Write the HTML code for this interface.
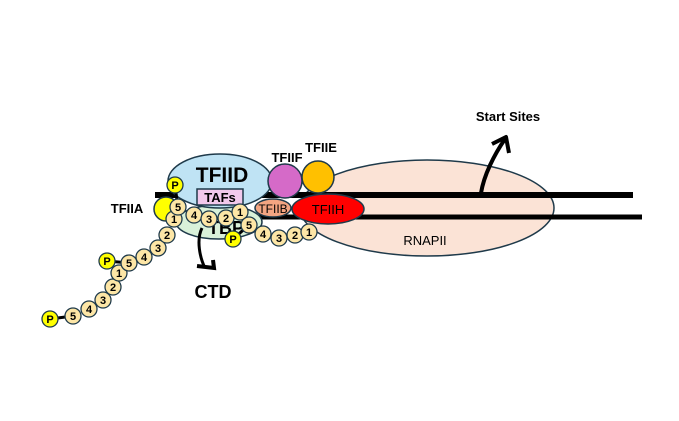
<!DOCTYPE html>
<html><head><meta charset="utf-8"><style>
html,body{margin:0;padding:0;background:#fff;width:679px;height:421px;overflow:hidden}
svg{display:block}
text{font-family:"Liberation Sans",sans-serif;font-weight:bold}
</style></head><body>
<svg width="679" height="421" viewBox="0 0 679 421">
<ellipse cx="427" cy="208" rx="127" ry="48" fill="#fbe3d6" stroke="#1f3a4a" stroke-width="1.5"/>
<line x1="155" y1="195" x2="633" y2="195" stroke="#000" stroke-width="6"/>
<line x1="245" y1="217" x2="642" y2="217" stroke="#000" stroke-width="5"/>
<path d="M481,193 C484,175 494,155 505,139" fill="none" stroke="#000" stroke-width="4"/>
<path d="M492,144 L506,137 L509,153" fill="none" stroke="#000" stroke-width="4" stroke-linejoin="round"/>
<text x="508" y="121" font-size="13" text-anchor="middle">Start Sites</text>
<text x="425" y="245" font-size="13" text-anchor="middle" style="font-weight:normal">RNAPII</text>
<ellipse cx="219" cy="222" rx="43" ry="17" fill="#d9f1d9" stroke="#1f3a4a" stroke-width="1.5"/>
<text x="226" y="234" font-size="18" text-anchor="middle">TBP</text>
<ellipse cx="220" cy="181" rx="52" ry="27" fill="#bfe3f4" stroke="#1f3a4a" stroke-width="1.5"/>
<text x="222" y="182" font-size="21" text-anchor="middle">TFIID</text>
<rect x="197" y="189" width="46" height="16" fill="#f2c9ec" stroke="#1f3a4a" stroke-width="1.5"/>
<text x="220" y="202" font-size="13" text-anchor="middle">TAFs</text>
<ellipse cx="166" cy="209" rx="12" ry="12" fill="#ffff00" stroke="#1f3a4a" stroke-width="1.5"/>
<text x="127" y="213" font-size="13" text-anchor="middle">TFIIA</text>
<circle cx="285" cy="181" r="17" fill="#d56ac8" stroke="#1f3a4a" stroke-width="1.5"/>
<circle cx="318" cy="177" r="16" fill="#ffc000" stroke="#1f3a4a" stroke-width="1.5"/>
<text x="287" y="162" font-size="13" text-anchor="middle">TFIIF</text>
<text x="321" y="152" font-size="13" text-anchor="middle">TFIIE</text>
<ellipse cx="273" cy="208" rx="18" ry="9" fill="#f4a582" stroke="#1f3a4a" stroke-width="1.5"/>
<text x="273" y="213" font-size="12" text-anchor="middle" style="font-weight:normal">TFIIB</text>
<ellipse cx="328" cy="209" rx="36" ry="15" fill="#ff0000" stroke="#1f3a4a" stroke-width="1.5"/>
<text x="328" y="214" font-size="13" text-anchor="middle" style="font-weight:normal">TFIIH</text>
<path d="M202,228 C196,240 200,258 205,268" fill="none" stroke="#000" stroke-width="3"/>
<path d="M197,266 L214,268 L213,260" fill="none" stroke="#000" stroke-width="4"/>
<text x="213" y="298" font-size="18" text-anchor="middle">CTD</text>
<g stroke="#000" stroke-width="3">
<line x1="50" y1="319" x2="73" y2="316"/><line x1="107" y1="261" x2="129" y2="263"/><line x1="175" y1="186" x2="178" y2="207"/><line x1="233" y1="239" x2="249" y2="225"/>
</g>
<g font-size="11" text-anchor="middle" style="font-weight:normal">
<g fill="#fde6a6" stroke="#1f3a4a" stroke-width="1.3">
<circle cx="73" cy="316" r="8"/><circle cx="89" cy="309" r="8"/><circle cx="103" cy="300" r="8"/><circle cx="113" cy="287" r="8"/><circle cx="119" cy="273" r="8"/>
<circle cx="129" cy="263" r="8"/><circle cx="144" cy="257" r="8"/><circle cx="158" cy="248" r="8"/><circle cx="167" cy="235" r="8"/><circle cx="174" cy="219" r="8"/><circle cx="178" cy="207" r="8"/>
<circle cx="194" cy="215" r="8"/><circle cx="209" cy="219" r="8"/><circle cx="226" cy="218" r="8"/><circle cx="240" cy="212" r="8"/>
<circle cx="249" cy="225" r="8"/><circle cx="263" cy="234" r="8"/><circle cx="279" cy="238" r="8"/><circle cx="295" cy="235" r="8"/><circle cx="309" cy="232" r="8"/>
</g>
<g fill="#ffff00" stroke="#1f3a4a" stroke-width="1.3">
<circle cx="50" cy="319" r="8"/><circle cx="107" cy="261" r="8"/><circle cx="175" cy="185" r="8"/><circle cx="233" cy="239" r="8"/>
</g>
<g fill="#000">
<text x="73" y="320">5</text><text x="89" y="313">4</text><text x="103" y="304">3</text><text x="113" y="291">2</text><text x="119" y="277">1</text>
<text x="129" y="267">5</text><text x="144" y="261">4</text><text x="158" y="252">3</text><text x="167" y="239">2</text><text x="174" y="223">1</text><text x="178" y="211">5</text>
<text x="194" y="219">4</text><text x="209" y="223">3</text><text x="226" y="222">2</text><text x="240" y="216">1</text>
<text x="249" y="229">5</text><text x="263" y="238">4</text><text x="279" y="242">3</text><text x="295" y="239">2</text><text x="309" y="236">1</text>
<text x="50" y="323">P</text><text x="107" y="265">P</text><text x="175" y="189">P</text><text x="233" y="243">P</text>
</g>
</g>
</svg>
</body></html>
